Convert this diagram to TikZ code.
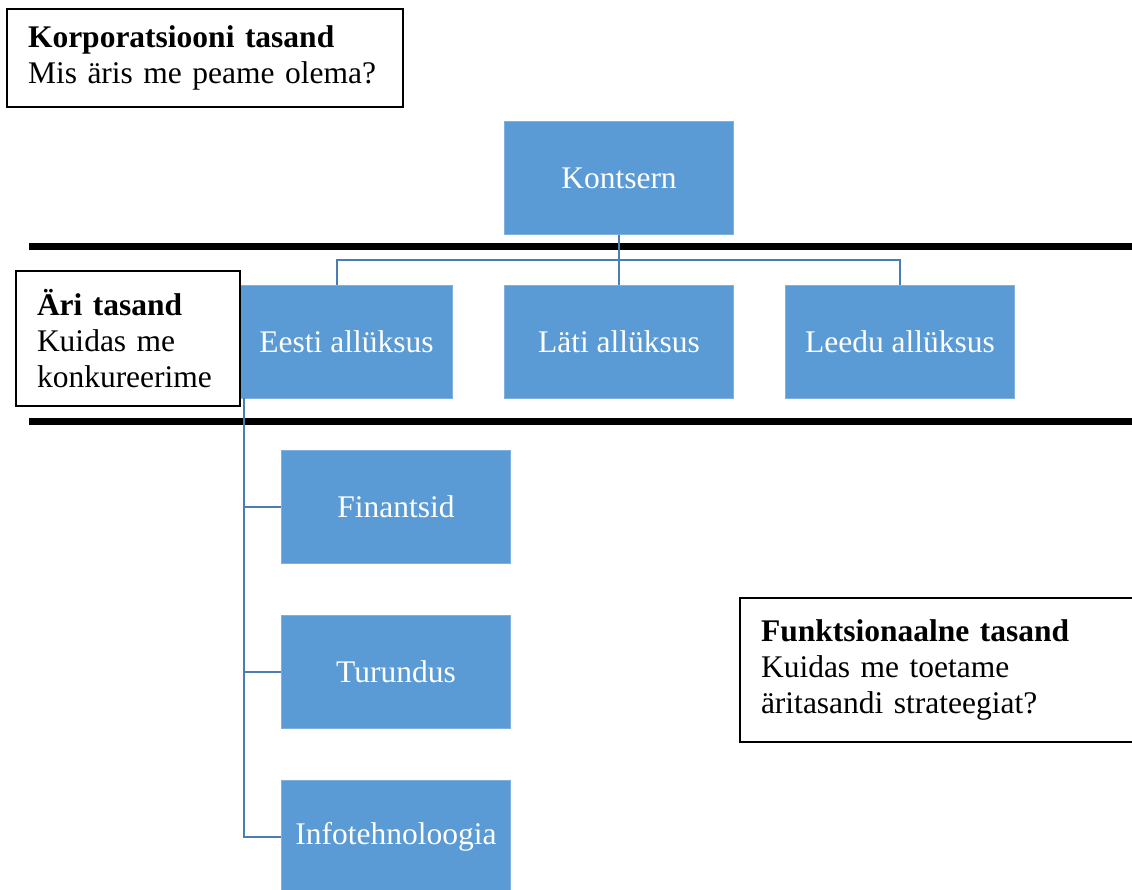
\documentclass[tikz,border=0pt]{standalone}
\usepackage{fontspec}
\setmainfont{Liberation Serif}
\definecolor{boxblue}{HTML}{5B9BD5}
\definecolor{boxedge}{HTML}{7FB0DE}
\definecolor{linkblue}{HTML}{4A7EB0}
\begin{document}
\begin{tikzpicture}[x=1pt,y=-1pt,
  unit/.style={draw=boxedge,line width=1pt,fill=boxblue,text=white,
    minimum width=229pt,minimum height=113pt,anchor=north west,inner sep=0pt,
    font=\fontsize{31.5}{36}\selectfont},
  level/.style={draw=black,line width=2pt,fill=white,anchor=north west,
    align=left,inner xsep=21pt,inner ysep=0pt,
    font=\fontsize{31.5}{36}\selectfont},
  link/.style={draw=linkblue,line width=2.6pt},
  rule/.style={draw=black,line width=7pt}]
\useasboundingbox (0,0) rectangle (1132,890);
\fill[white] (0,0) rectangle (1132,890);
% level rules
\coordinate (r1a) at (29,246.5);
\coordinate (r1b) at (1132,246.5);
\coordinate (r2a) at (29,421.5);
\coordinate (r2b) at (1132,421.5);
\draw[rule] (r1a) -- (r1b);
\draw[rule] (r2a) -- (r2b);
% units
\node[unit] (kontsern) at (504,121) {Kontsern};
\node[unit,minimum width=212pt] (eesti) at (240,285) {Eesti allüksus};
\node[unit] (lati) at (504,285) {Läti allüksus};
\node[unit] (leedu) at (785,285) {Leedu allüksus};
\node[unit] (fin) at (281,450) {Finantsid};
\node[unit] (tur) at (281,615) {Turundus};
\node[unit] (info) at (281,780) {Infotehnoloogia};
% connectors
\coordinate (bar) at (619,260);
\draw[link] (kontsern.south) -- (bar);
\draw[link] (eesti.north -| 337,0) -- (337,260) -| (leedu.north);
\draw[link] (bar) -- (lati.north);
\coordinate (vtop) at (244,398);
\draw[link] (vtop) |- (info.west);
\draw[link] (vtop |- fin.west) -- (fin.west);
\draw[link] (vtop |- tur.west) -- (tur.west);
% level labels
\node[level,minimum width=396pt,minimum height=98pt,text width=354pt] (korp) at (6,8)
  {\textbf{Korporatsiooni tasand}\\Mis äris me peame olema?};
\node[level,minimum width=224pt,minimum height=135pt,text width=182pt,inner xsep=21pt] (ari) at (15,270)
  {\textbf{Äri tasand}\\Kuidas me\\konkureerime};
\node[level,minimum width=393pt,minimum height=144pt,text width=351pt] (funk) at (739,597)
  {\textbf{Funktsionaalne tasand}\\Kuidas me toetame\\äritasandi strateegiat?};
\end{tikzpicture}
\end{document}
